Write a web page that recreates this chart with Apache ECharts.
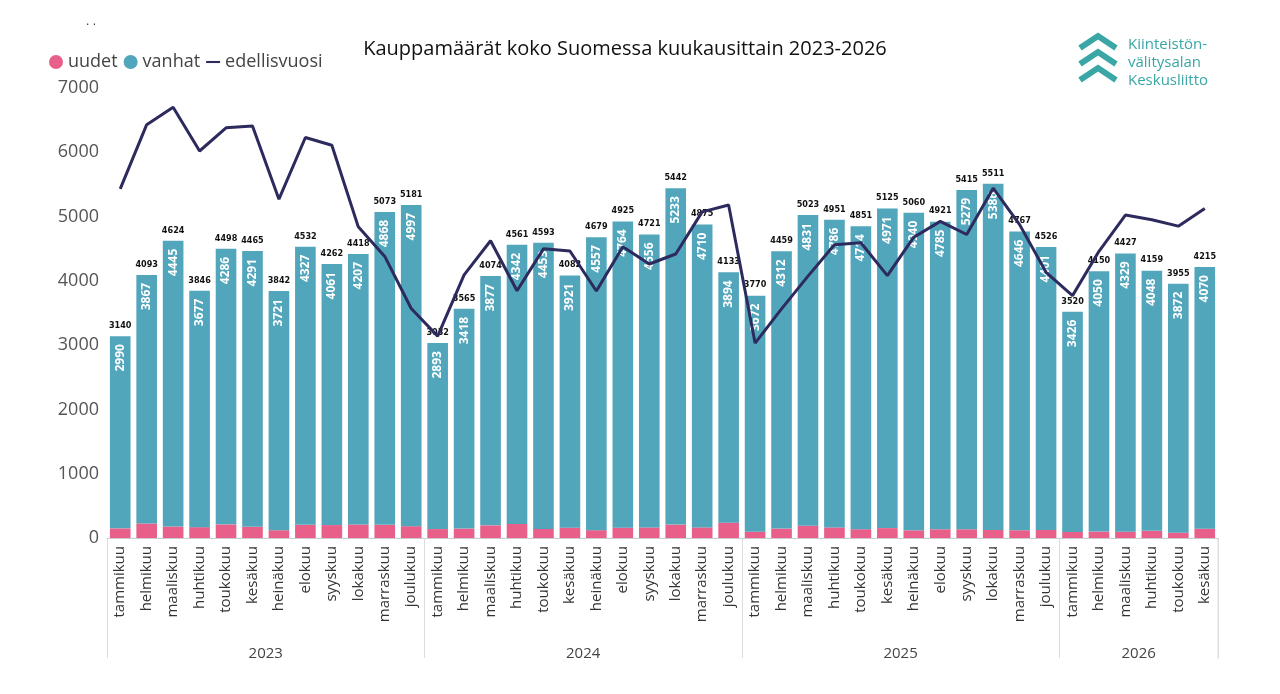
<!DOCTYPE html>
<html><head><meta charset="utf-8">
<script src="https://cdn.jsdelivr.net/npm/echarts@6/dist/echarts.min.js"></script>
<style>html,body{margin:0;background:#fff}#c{width:1280px;height:694px}</style>
</head><body><div id="c"></div>
<script>
const months=['tammikuu','helmikuu','maaliskuu','huhtikuu','toukokuu','kesäkuu','heinäkuu','elokuu','syyskuu','lokakuu','marraskuu','joulukuu'];
const years=['2023','2024','2025','2026'];
const monthsPerYear=[12,12,12,6];
const totals=[3140,4093,4624,3846,4498,4465,3842,4532,4262,4418,5073,5181,
 3032,3565,4074,4561,4593,4082,4679,4925,4721,5442,4875,4133,
 3770,4459,5023,4951,4851,5125,5060,4921,5415,5511,4767,4526,
 3520,4150,4427,4159,3955,4215];
const vanhat=[2990,3867,4445,3677,4286,4291,3721,4327,4061,4207,4868,4997,
 2893,3418,3877,4342,4453,3921,4557,4764,4556,5233,4710,3894,
 3672,4312,4831,4786,4714,4971,4940,4785,5279,5386,4646,4401,
 3426,4050,4329,4048,3872,4070];
const edellisvuosi=[5430,6430,6700,6020,6380,6410,5270,6230,6110,4840,4380,3570,
 3140,4093,4624,3846,4498,4465,3842,4532,4262,4418,5073,5181,
 3032,3565,4074,4561,4593,4082,4679,4925,4721,5442,4875,4133,
 3770,4459,5023,4951,4851,5125];
const uudet=totals.map((t,i)=>t-vanhat[i]);
const cats=[];monthsPerYear.forEach((n,y)=>{for(let i=0;i<n;i++)cats.push(months[i]+' '+years[y]);});
const yearCenter={};let acc=0;monthsPerYear.forEach((n,y)=>{yearCenter[acc+n/2]=years[y];acc+=n;});
const F='"Segoe UI","Open Sans",sans-serif';
const ch=echarts.init(document.getElementById('c'));
ch.setOption({
 animation:false,
 title:{text:'Kauppamäärät koko Suomessa kuukausittain 2023-2026',left:620,top:34,textAlign:'center',textStyle:{fontFamily:F,fontSize:20,fontWeight:'normal',color:'#111'}},
 legend:{left:44,top:48,itemGap:6,textStyle:{fontFamily:F,fontSize:18,color:'#444'},
  data:[{name:'uudet',icon:'circle'},{name:'vanhat',icon:'circle'},{name:'edellisvuosi',icon:'path://M0,4h20v3h-20z'}],itemWidth:14,itemHeight:14},
 grid:{left:107,right:62,top:88,bottom:156},
 xAxis:[
  {type:'category',data:cats,axisTick:{show:false},axisLine:{lineStyle:{color:'#ccc'}},
   axisLabel:{rotate:90,interval:0,fontFamily:F,fontSize:15,color:'#333',formatter:v=>v.split(' ')[0]}},
  {type:'category',data:cats,position:'bottom',axisLine:{show:false},axisLabel:{show:false},
   axisTick:{show:true,length:120,lineStyle:{color:'#ddd'},interval:(i)=>i%12===0}},
  {type:'value',min:0,max:42,interval:3,position:'bottom',offset:100,axisLine:{show:false},axisTick:{show:false},splitLine:{show:false},
   axisLabel:{fontFamily:F,fontSize:15,color:'#444',formatter:v=>yearCenter[v]||''}}
 ],
 yAxis:{type:'value',min:0,max:7000,interval:1000,axisLabel:{fontFamily:F,fontSize:18,color:'#555',formatter:v=>String(v)},splitLine:{show:false},axisLine:{show:false},axisTick:{show:false}},
 series:[
  {name:'uudet',type:'bar',stack:'s',data:uudet,barCategoryGap:'22%',itemStyle:{color:'#e8608a'}},
  {name:'vanhat',type:'bar',stack:'s',data:vanhat,itemStyle:{color:'#52a6bc'},
   label:{show:true,position:'insideTop',rotate:90,align:'right',verticalAlign:'middle',distance:8,color:'#fff',fontFamily:F,fontSize:12,fontWeight:'bold'}},
  {name:'total',type:'bar',stack:'s',data:totals.map(()=>0),itemStyle:{color:'transparent'},
   label:{show:true,position:'top',distance:6,color:'#111',fontFamily:'"DejaVu Sans Condensed",sans-serif',fontSize:9,fontWeight:'bold',formatter:p=>totals[p.dataIndex]}},
  {name:'edellisvuosi',type:'line',data:edellisvuosi,symbol:'none',lineStyle:{color:'#2d2a5e',width:3},itemStyle:{color:'#2d2a5e'},z:5}
 ],
 graphic:[
  {type:'line',shape:{x1:1218,y1:539,x2:1218,y2:659},style:{stroke:'#ddd',lineWidth:1}},
  {type:'text',left:1128,top:36,style:{text:'Kiinteistön-\nvälitysalan\nKeskusliitto',font:'15px '+F,fill:'#3aa6a6',lineHeight:18}},
  {type:'polyline',shape:{points:[[1080,48],[1098,36],[1116,48]]},style:{stroke:'#3aa6a6',lineWidth:6,fill:null}},
  {type:'polyline',shape:{points:[[1080,64],[1098,52],[1116,64]]},style:{stroke:'#3aa6a6',lineWidth:6,fill:null}},
  {type:'polyline',shape:{points:[[1080,80],[1098,68],[1116,80]]},style:{stroke:'#3aa6a6',lineWidth:6,fill:null}},
  {type:'text',left:86,top:16,style:{text:'. .',font:'12px sans-serif',fill:'#333'}}
 ]
});
</script></body></html>
